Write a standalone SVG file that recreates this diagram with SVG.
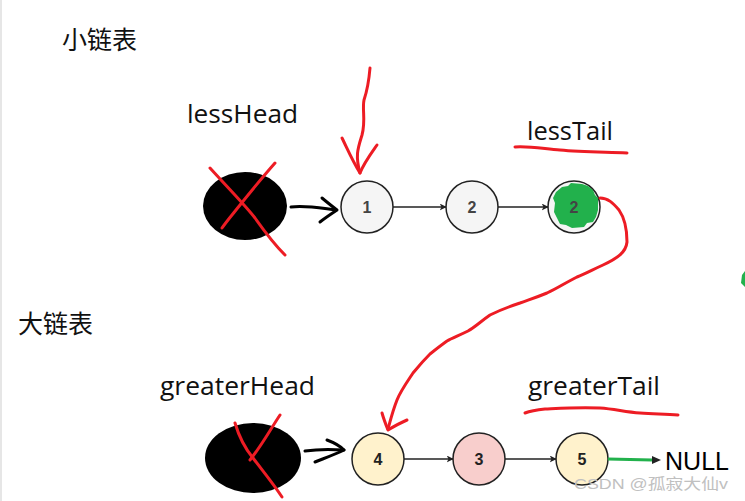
<svg xmlns="http://www.w3.org/2000/svg" width="745" height="501" viewBox="0 0 745 501">
<defs>
<style>
.lbl{font-family:"Open Sans","Liberation Sans","Noto Sans CJK SC",sans-serif;font-size:25px;fill:#111}
.cn{font-family:"Noto Sans CJK SC","Noto Sans",sans-serif;font-size:25px;fill:#111}
.node circle{stroke:#222;stroke-width:1.5}
.num{font-family:"Liberation Sans",Arial,sans-serif;font-size:16px;font-weight:bold;fill:#444;text-anchor:middle}
.red{fill:none;stroke:#ed1c24;stroke-width:3;stroke-linecap:round;stroke-linejoin:round}
.ink{fill:none;stroke:#000;stroke-width:3;stroke-linecap:round;stroke-linejoin:round}
.link{stroke:#222;stroke-width:1.4;fill:none}
</style>
<marker id="ah" viewBox="0 0 10 10" refX="9" refY="5" markerWidth="7" markerHeight="7" markerUnits="userSpaceOnUse" orient="auto">
<path d="M0,0 L10,5 L0,10 L2.5,5 Z" fill="#222"/>
</marker>
</defs>
<rect width="745" height="501" fill="#fff"/>
<rect x="0" y="0" width="2" height="501" fill="#e6e6e6"/>

<text class="cn" x="62" y="49">小链表</text>
<text class="cn" x="18" y="333">大链表</text>

<g id="lessHead-label"><text class="lbl" x="187" y="123" textLength="111" lengthAdjust="spacingAndGlyphs">lessHead</text></g>
<g id="lessTail-label"><text class="lbl" x="527" y="140" textLength="86" lengthAdjust="spacingAndGlyphs">lessTail</text>
<path class="red" d="M515,147 C530,146 545,149 560,150 C580,152 600,152 627,153"/></g>
<g id="greaterHead-label"><text class="lbl" x="160" y="395" textLength="155" lengthAdjust="spacingAndGlyphs">greaterHead</text></g>
<g id="greaterTail-label"><text class="lbl" x="528" y="395" textLength="132" lengthAdjust="spacingAndGlyphs">greaterTail</text>
<path class="red" d="M525,413 C530,411 535,410 545,409 C565,408 580,407 600,408 C615,409 625,412 640,413 C655,414 665,414 678,415"/></g>

<g id="lessHead">
<ellipse cx="245" cy="206" rx="42" ry="34" fill="#000"/>
<path class="red" d="M210,168 C230,190 245,205 255,218 C265,232 275,245 285,255"/>
<path class="red" d="M275,163 C260,180 248,195 240,205 C232,215 226,222 222,228"/>
</g>
<g id="greaterHead">
<ellipse cx="253" cy="458" rx="48" ry="35" fill="#000"/>
<path class="red" d="M235,423 C240,440 248,452 253,458 C262,470 272,482 282,497"/>
<path class="red" d="M280,415 C270,430 262,445 250,460"/>
</g>

<g id="n1" class="node"><circle cx="367" cy="207" r="26" fill="#f5f5f5"/><text class="num" x="367" y="213">1</text></g>
<g id="n2" class="node"><circle cx="472" cy="207" r="26" fill="#f5f5f5"/><text class="num" x="472" y="213">2</text></g>
<g id="n2tail" class="node"><circle cx="574" cy="207" r="26" fill="#f5f5f5"/>
<path d="M556,192 L562,187 L568,186 L571,183 L582,184 L588,186 L593,190 L595,195 L598,198 L598,210 L596,217 L593,222 L587,223 L584,227 L572,228 L566,225 L560,224 L557,218 L554,212 L555,203 L553,198 Z" fill="#22b14c"/>
<text class="num" x="574" y="213">2</text></g>
<g id="n4" class="node"><circle cx="378" cy="459" r="26" fill="#fff2cc"/><text class="num" x="378" y="465" style="fill:#222">4</text></g>
<g id="n3" class="node"><circle cx="479" cy="459" r="26" fill="#f8cecc"/><text class="num" x="479" y="465" style="fill:#222">3</text></g>
<g id="n5" class="node"><circle cx="582" cy="459" r="26" fill="#fff2cc"/><text class="num" x="582" y="465" style="fill:#222">5</text></g>
<g id="null"><text x="665" y="470" style="font-family:'Liberation Sans',Arial,sans-serif;font-size:25px;fill:#000" textLength="64" lengthAdjust="spacingAndGlyphs">NULL</text></g>

<g id="connectors">
<line class="link" x1="393" y1="207" x2="446" y2="207" marker-end="url(#ah)"/>
<line class="link" x1="498" y1="207" x2="548" y2="207" marker-end="url(#ah)"/>
<line class="link" x1="404" y1="459" x2="453" y2="459" marker-end="url(#ah)"/>
<line class="link" x1="505" y1="459" x2="556" y2="459" marker-end="url(#ah)"/>
<line x1="608" y1="459" x2="652" y2="460" stroke="#22b14c" stroke-width="3"/>
<path d="M652,456 L661,460 L652,464 Z" fill="#222"/>
<path class="ink" d="M291,207 C305,205 320,208 336,210"/>
<path class="ink" d="M322,198 C328,203 333,207 337,210 C331,214 325,218 320,222"/>
<path class="ink" d="M305,451 C318,449 330,449 344,450"/>
<path class="ink" d="M327,440 C335,443 340,446 344,450 C336,454 325,458 315,462"/>
<path class="red" d="M370,68 C369,80 368,88 364,100 C362,110 366,120 362,135 C358,148 355,155 360,173"/>
<path class="red" d="M342,138 C347,148 352,160 360,173 C364,163 370,155 377,145"/>
<path class="red" d="M600,198 C608,198 613,203 619,210 C626,220 627,232 627,242 C626,252 618,258 603,265 C592,270 585,274 577,277 C565,283 558,288 547,293 C535,298 528,300 520,303 C508,307 498,311 490,315 C480,322 475,327 468,331 C458,336 452,338 447,341 C440,346 435,350 430,354 C422,362 418,367 413,373 C405,385 400,392 397,400 C393,410 391,418 388,429"/>
<path class="red" d="M382,413 C384,420 386,425 388,430 C393,427 400,423 407,420"/>
<path d="M742,275 L745,271 L745,287 L741,283 Z" fill="#22b14c"/>
</g>

<text x="574" y="489" style="font-family:'Liberation Sans','Noto Sans CJK SC',sans-serif;font-size:15px;fill:#c0c0c0" textLength="154" lengthAdjust="spacingAndGlyphs">CSDN @孤寂大仙v</text>
</svg>
